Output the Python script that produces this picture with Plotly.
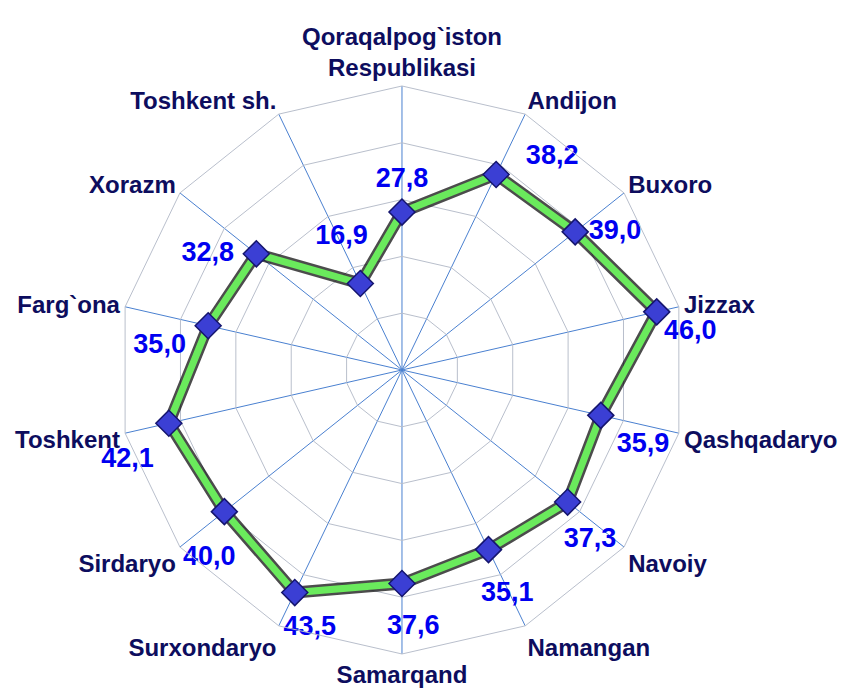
import plotly.graph_objects as go

# regions, clockwise from the top
regions = ["Qoraqalpog`iston<br>Respublikasi", "Andijon", "Buxoro", "Jizzax",
           "Qashqadaryo", "Navoiy", "Namangan", "Samarqand", "Surxondaryo",
           "Sirdaryo", "Toshkent", "Farg`ona", "Xorazm", "Toshkent sh."]
values = [27.8, 38.2, 39.0, 46.0, 35.9, 37.3, 35.1, 37.6, 43.5, 40.0, 42.1, 35.0, 32.8, 16.9]
value_labels = ["27,8", "38,2", "39,0", "46,0", "35,9", "37,3", "35,1",
                "37,6", "43,5", "40,0", "42,1", "35,0", "32,8", "16,9"]

NB = "\u00a0"
# label placement next to each point (position, gap, nudge with nbsp)
label_pos = ["top center", "middle right", "middle right", "bottom right",
             "bottom right", "bottom center", "bottom center", "bottom center",
             "bottom center", "bottom center", "bottom center", "bottom left",
             "middle left", "top center"]
label_gap = [28, 46, 20, 10, 24, 38, 48, 46, 34, 52, 36, 10, 34, 50]
shown_labels = [value_labels[0],
                value_labels[1] + "<br>" + NB,
                value_labels[2], value_labels[3], value_labels[4],
                NB * 6 + value_labels[5],
                NB * 5 + value_labels[6],
                NB * 3 + value_labels[7],
                NB * 4 + value_labels[8],
                value_labels[9] + NB * 4,
                value_labels[10] + NB * 11,
                value_labels[11] + NB * 2,
                value_labels[12],
                value_labels[13] + NB * 5]

theta_closed = regions + regions[:1]
r_closed = values + values[:1]

fig = go.Figure()

# dark shadow under the line
fig.add_trace(go.Scatterpolar(r=r_closed, theta=theta_closed, mode="lines",
                              line=dict(color="rgba(0,0,0,0.7)", width=12),
                              hoverinfo="skip", showlegend=False))
fig.add_trace(go.Scatterpolar(r=r_closed, theta=theta_closed, mode="lines",
                              line=dict(color="#6aea5c", width=7),
                              showlegend=False))
fig.add_trace(go.Scatterpolar(r=values, theta=regions, mode="markers",
                              marker=dict(symbol="diamond", size=20, color="#3b3fd4",
                                          line=dict(color="#15156e", width=1.5)),
                              showlegend=False))
# value labels (invisible marker sets the gap between point and text)
fig.add_trace(go.Scatterpolar(r=values, theta=regions, mode="markers+text",
                              marker=dict(size=label_gap, opacity=0),
                              text=shown_labels, textposition=label_pos,
                              textfont=dict(family="Liberation Sans", size=27,
                                            color="#0000f0", weight="bold"),
                              hoverinfo="skip", showlegend=False))

fig.update_layout(
    width=848, height=698,
    margin=dict(l=0, r=0, t=0, b=0),
    paper_bgcolor="white",
    font=dict(family="Liberation Sans"),
    polar=dict(
        domain=dict(x=[0.1297, 0.7995], y=[0.0745, 0.8883]),
        bgcolor="white",
        gridshape="linear",
        radialaxis=dict(range=[0, 50], dtick=10, showticklabels=False, ticks="",
                        showline=False, gridcolor="#b9bfcc", gridwidth=1),
        angularaxis=dict(direction="clockwise", rotation=90,
                         gridcolor="#4a80d0", gridwidth=1,
                         linecolor="#b9bfcc", linewidth=1, ticks="",
                         tickfont=dict(family="Liberation Sans", size=24,
                                       color="#0d0d5e", weight="bold")),
    ),
)

fig.write_html("out.html")
